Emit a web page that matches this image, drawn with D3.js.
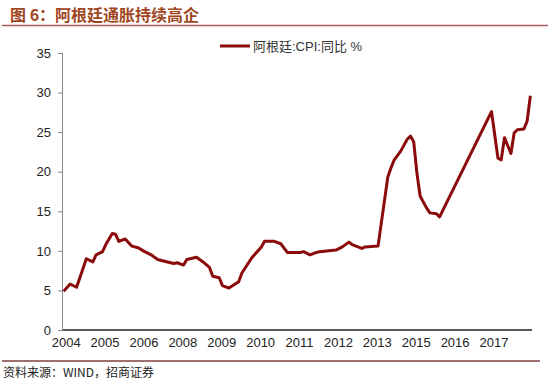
<!doctype html>
<html>
<head>
<meta charset="utf-8">
<style>
  body { margin: 0; background: #fff; }
  svg { display: block; }
  .axis text { font: 13px Arial, "Liberation Sans", sans-serif; fill: #222; }
</style>
<script src="https://d3js.org/d3.v7.min.js"></script>
</head>
<body>
<svg width="550" height="385"></svg>
<script>
// month offsets (from start of series) and CPI y/y values
var months = [0, 2, 4, 5, 7, 9, 10, 12, 13, 15, 16, 17, 19, 21, 23, 25, 27, 29, 32, 34, 35, 37,
  38, 41, 43, 45, 46, 48, 49, 51, 54, 55, 58, 61, 62, 65, 67, 69, 73, 74, 76, 78, 79, 84, 86,
  88, 89, 92, 93, 97, 100, 101, 102, 104, 106, 107, 108, 109, 110, 112, 113, 115, 116,
  132, 134, 135, 136, 138, 139, 140, 142, 143, 144];
var cpi = [4.9, 5.8, 5.4, 6.6, 9.0, 8.6, 9.5, 9.9, 10.8, 12.2, 12.1, 11.2, 11.5, 10.6, 10.4, 9.9, 9.5, 8.9, 8.6, 8.4, 8.5, 8.2,
  8.9, 9.2, 8.6, 7.9, 6.8, 6.6, 5.6, 5.3, 6.1, 7.2, 9.1, 10.5, 11.2, 11.2, 10.9, 9.8, 9.8, 9.9, 9.5, 9.8, 9.9, 10.1, 10.5,
  11.1, 10.8, 10.3, 10.5, 10.6, 19.3, 20.5, 21.5, 22.6, 24.1, 24.5, 23.8, 19.8, 16.9, 15.4, 14.8, 14.7, 14.3,
  27.6, 21.7, 21.5, 24.3, 22.3, 24.9, 25.3, 25.4, 26.4, 29.6];
var tickPos = [0, 12, 24, 36, 48, 60, 72, 84, 96, 108, 120, 132];
var tickLabels = ["2004", "2005", "2006", "2008", "2009", "2010", "2011", "2012", "2013", "2015", "2016", "2017"];
var yTicks = [0, 5, 10, 15, 20, 25, 30, 35];

var svg = d3.select("svg");
var plotLeft = 63, plotRight = 532, plotTop = 53, plotBottom = 330;

var x = d3.scaleLinear().domain([-0.2, 144.5]).range([plotLeft, plotRight]);
var y = d3.scaleLinear().domain([0, 35]).range([plotBottom, plotTop]);

// title
svg.append("text")
   .attr("x", 10).attr("y", 21)
   .attr("font-family", "'Noto Sans CJK SC', sans-serif")
   .attr("font-weight", "bold")
   .attr("font-size", "16px")
   .attr("fill", "#a0461e")
   .text("图 6：阿根廷通胀持续高企");
svg.append("line")
   .attr("x1", 2).attr("x2", 548).attr("y1", 25.5).attr("y2", 25.5)
   .attr("stroke", "#a65a5a").attr("stroke-width", 1.5);

// y axis
var gy = svg.append("g").attr("class", "axis")
   .attr("transform", "translate(" + plotLeft + ",0)")
   .call(d3.axisLeft(y).tickValues(yTicks).tickSize(5).tickPadding(7));
gy.select(".domain").attr("stroke", "#888").attr("d", "M-0.5," + plotTop + "V" + plotBottom);
gy.selectAll(".tick line").attr("stroke", "#888");

// x axis
var gx = svg.append("g").attr("class", "axis")
   .attr("transform", "translate(0," + plotBottom + ")")
   .call(d3.axisBottom(x).tickValues(tickPos).tickSize(0).tickPadding(8)
          .tickFormat(function(d, i) { return tickLabels[i]; }));
gx.select(".domain").attr("stroke", "#222").attr("stroke-width", 1.5)
   .attr("d", "M" + plotLeft + ",0H" + plotRight);
gx.selectAll(".tick text").attr("dx", 2);

// series line
var pts = months.map(function(m, i) { return [m, cpi[i]]; });
var line = d3.line()
   .x(function(d) { return x(d[0]); })
   .y(function(d) { return y(d[1]); });
svg.append("path")
   .datum(pts)
   .attr("d", line)
   .attr("fill", "none")
   .attr("stroke", "#8b0a0a")
   .attr("stroke-width", 3)
   .attr("stroke-linejoin", "round");

// legend
svg.append("line")
   .attr("x1", 220).attr("x2", 250).attr("y1", 46).attr("y2", 46)
   .attr("stroke", "#8b0a0a").attr("stroke-width", 3);
svg.append("text")
   .attr("x", 253).attr("y", 51)
   .attr("font-family", "Arial, 'Noto Sans CJK SC', sans-serif")
   .attr("font-size", "13px")
   .attr("fill", "#333")
   .text("阿根廷:CPI:同比 %");

// footer
svg.append("line")
   .attr("x1", 2).attr("x2", 540).attr("y1", 361).attr("y2", 361)
   .attr("stroke", "#a07070").attr("stroke-width", 2);
svg.append("text")
   .attr("x", 3).attr("y", 377)
   .attr("font-family", "'Noto Sans CJK SC', sans-serif")
   .attr("font-size", "12px")
   .attr("fill", "#222")
   .text("资料来源：WIND，招商证券");
</script>
</body>
</html>
